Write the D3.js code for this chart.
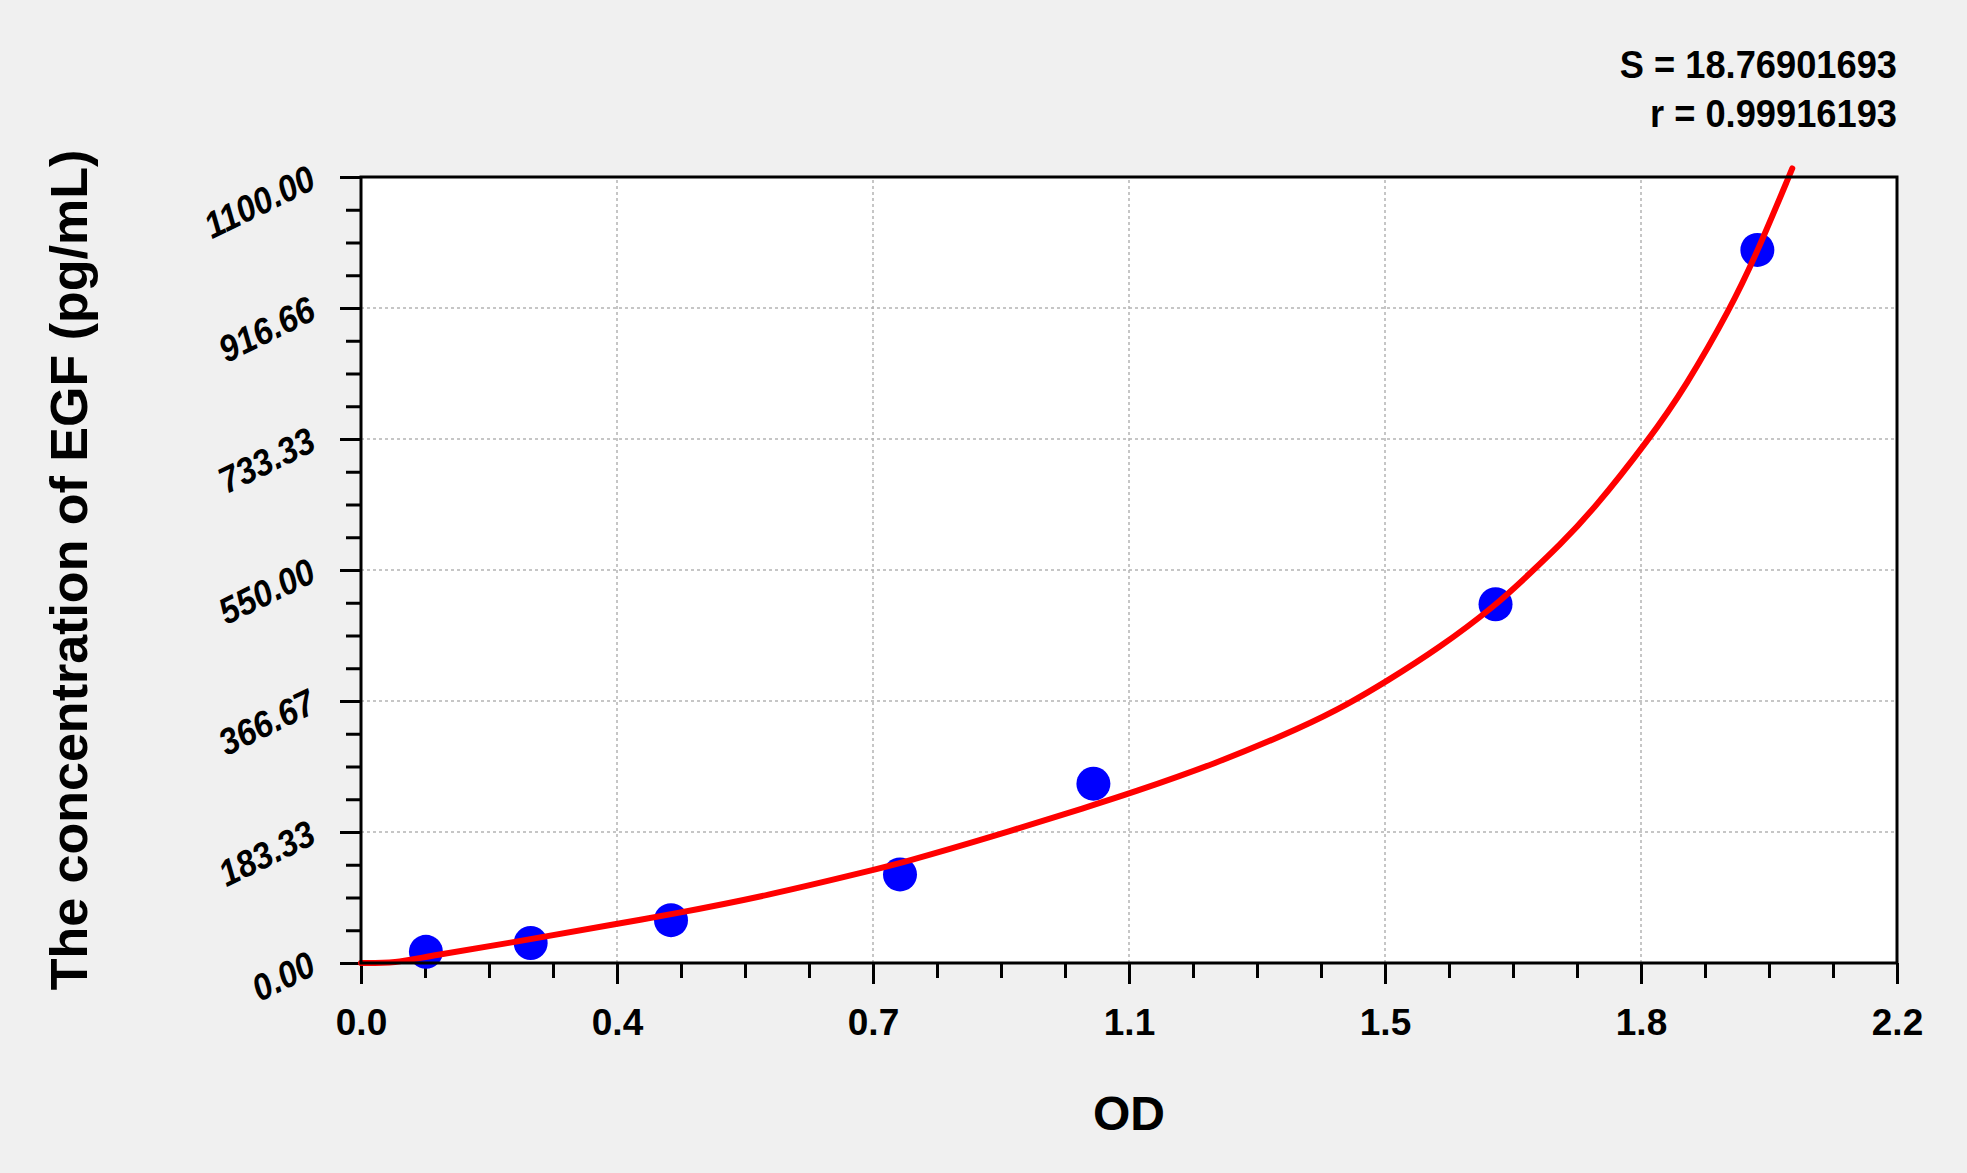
<!DOCTYPE html>
<html>
<head>
<meta charset="utf-8">
<script src="https://cdn.jsdelivr.net/npm/d3@7"></script>
<style>
  body { margin: 0; background: #f0f0f0; }
  svg { display: block; }
</style>
</head>
<body>
<div id="chart"></div>
<script>
// standard points (OD, concentration)
const odValues = [0.093, 0.243, 0.444, 0.772, 1.049, 1.625, 2.000]
const concValues = [15.6, 28, 60, 124, 251, 502, 998]

// fitted curve
const fitOD = [0, 0.05, 0.093, 0.243, 0.367, 0.444, 0.581, 0.733, 0.774, 0.902, 1.049, 1.1,
  1.222, 1.351, 1.415, 1.467, 1.543, 1.625, 1.674, 1.716, 1.765, 1.845, 1.897, 1.962, 2.0, 2.05]
const fitConc = [0, 0, 9, 33, 55, 68, 94, 130, 140, 176, 221, 237,
  278, 331, 363, 393, 440, 500, 545, 584, 634, 733, 806, 917, 995, 1112]

// axis ticks
const xTicks = [0, 2.2 / 6, 4.4 / 6, 1.1, 8.8 / 6, 11 / 6, 2.2]
const xTickLabels = ["0.0", "0.4", "0.7", "1.1", "1.5", "1.8", "2.2"]
const yTicks = [0, 1100 / 6, 2200 / 6, 550, 4400 / 6, 5500 / 6, 1100]
const yTickLabels = ["0.00", "183.33", "366.67", "550.00", "733.33", "916.66", "1100.00"]

const statLines = ["S = 18.76901693", "r = 0.99916193"]

var width = 1967
var height = 1173
var margin = { top: 177, right: 70, bottom: 210, left: 361 }
var font = "Liberation Sans, Arial, sans-serif"

const svg = d3.select("#chart").append("svg")
  .attr("width", width)
  .attr("height", height)

svg.append("rect").attr("width", width).attr("height", height).attr("fill", "#f0f0f0")

const x = d3.scaleLinear().domain([0, 2.2]).range([margin.left, width - margin.right])
const y = d3.scaleLinear().domain([0, 1100]).range([height - margin.bottom, margin.top])

// minor ticks: 3 between each pair of major ticks
function minors(ticks) {
  const out = []
  for (let i = 0; i < ticks.length - 1; i++) {
    for (let j = 1; j < 4; j++) out.push(ticks[i] + (ticks[i + 1] - ticks[i]) * j / 4)
  }
  return out
}

// white plot area
svg.append("rect")
  .attr("x", x(0)).attr("y", y(1100))
  .attr("width", x(2.2) - x(0)).attr("height", y(0) - y(1100))
  .attr("fill", "#ffffff")

// grid
const grid = svg.append("g").attr("stroke", "#b4b4b4").attr("stroke-width", 1.5).attr("stroke-dasharray", "3,3")
grid.selectAll(".gx").data(xTicks.slice(1, -1)).join("line")
  .attr("x1", d => x(d)).attr("x2", d => x(d))
  .attr("y1", y(0)).attr("y2", y(1100))
grid.selectAll(".gy").data(yTicks.slice(1, -1)).join("line")
  .attr("y1", d => y(d)).attr("y2", d => y(d))
  .attr("x1", x(0)).attr("x2", x(2.2))

// axes
const xAxisG = svg.append("g").attr("transform", `translate(0,${y(0)})`)
xAxisG.call(d3.axisBottom(x).tickValues(minors(xTicks)).tickSize(15).tickFormat(""))
xAxisG.append("g").call(d3.axisBottom(x).tickValues(xTicks).tickSize(21)
  .tickFormat((d, i) => xTickLabels[i]))
xAxisG.selectAll("path.domain").remove()
xAxisG.selectAll("line").attr("stroke", "#000").attr("stroke-width", 3)
xAxisG.selectAll("text")
  .attr("fill", "#000")
  .attr("dy", null)
  .attr("y", 72)
  .style("font-family", font)
  .style("font-weight", "bold")
  .style("font-size", "37px")

const yAxisG = svg.append("g").attr("transform", `translate(${x(0)},0)`)
yAxisG.call(d3.axisLeft(y).tickValues(minors(yTicks)).tickSize(15).tickFormat(""))
yAxisG.append("g").call(d3.axisLeft(y).tickValues(yTicks).tickSize(21)
  .tickFormat((d, i) => yTickLabels[i]))
yAxisG.selectAll("path.domain").remove()
yAxisG.selectAll("line").attr("stroke", "#000").attr("stroke-width", 3)
yAxisG.selectAll("text")
  .attr("fill", "#000")
  .attr("x", null).attr("dy", null)
  .attr("text-anchor", "end")
  .attr("transform", "translate(-43,10) rotate(-26) scale(0.9,1)")
  .style("font-family", font)
  .style("font-weight", "bold")
  .style("font-style", "italic")
  .style("font-size", "37px")

// standard points
svg.append("g").attr("fill", "#0000ff")
  .selectAll("circle")
  .data(odValues)
  .join("circle")
  .attr("cx", d => x(d))
  .attr("cy", (d, i) => y(concValues[i]))
  .attr("r", 17)

// fitted curve
const line = d3.line()
  .x(d => x(d))
  .y((d, i) => y(fitConc[i]))
  .curve(d3.curveBasis)
svg.append("path")
  .datum(fitOD)
  .attr("d", line)
  .attr("fill", "none")
  .attr("stroke", "#ff0000")
  .attr("stroke-width", 6)
  .attr("stroke-linecap", "round")

// frame
svg.append("rect")
  .attr("x", x(0)).attr("y", y(1100))
  .attr("width", x(2.2) - x(0)).attr("height", y(0) - y(1100))
  .attr("fill", "none").attr("stroke", "#000").attr("stroke-width", 3)

// stats
svg.append("g").selectAll("text").data(statLines).join("text")
  .attr("transform", (d, i) => `translate(${x(2.2)},${78 + i * 49}) scale(0.93,1)`)
  .attr("text-anchor", "end")
  .style("font-family", font)
  .style("font-weight", "bold")
  .style("font-size", "39px")
  .text(d => d)

// axis titles
svg.append("text")
  .attr("x", (x(0) + x(2.2)) / 2)
  .attr("y", 1130)
  .attr("text-anchor", "middle")
  .style("font-family", font)
  .style("font-weight", "bold")
  .style("font-size", "48px")
  .text("OD")

svg.append("text")
  .attr("transform", `translate(87,${(y(0) + y(1100)) / 2}) rotate(-90)`)
  .attr("text-anchor", "middle")
  .style("font-family", font)
  .style("font-weight", "bold")
  .style("font-size", "52px")
  .text("The concentration of EGF (pg/mL)")
</script>
</body>
</html>
